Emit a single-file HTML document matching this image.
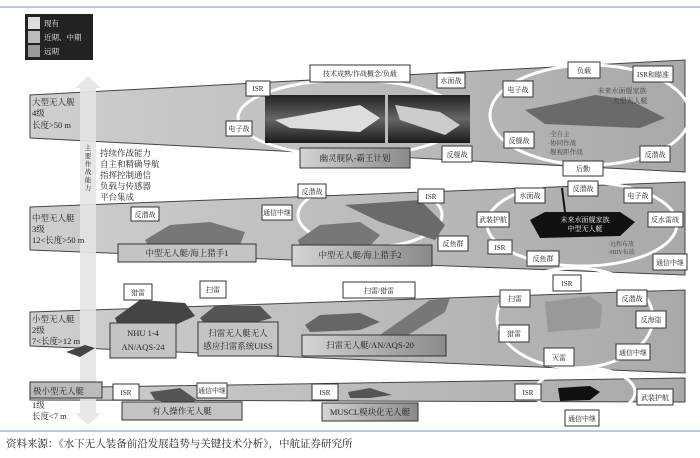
<!DOCTYPE html>
<html><head><meta charset="utf-8"><style>
html,body{margin:0;padding:0;background:#fff;}
svg{display:block;}
text{font-family:"Liberation Serif","Noto Serif CJK SC","Noto Sans CJK SC",serif;fill:#222;}
.b{fill:#fff;stroke:#333;stroke-width:1;}
.g{fill:#c4c4c4;stroke:#333;stroke-width:1;}
.e{fill:none;stroke:#fff;stroke-width:3;}
.s{font-size:7px;text-anchor:middle;}
.m{font-size:8.5px;text-anchor:middle;}
.l{font-size:8.5px;}
</style></head><body>
<svg width="700" height="458" viewBox="0 0 700 458" xmlns="http://www.w3.org/2000/svg">
<defs>
<linearGradient id="band" x1="0" x2="1" y1="0" y2="0"><stop offset="0" stop-color="#cfcfcf"/><stop offset="1" stop-color="#a9a9a9"/></linearGradient>
<linearGradient id="gb" x1="0" x2="1"><stop offset="0" stop-color="#d4d4d4"/><stop offset="1" stop-color="#8a8a8a"/></linearGradient>
<linearGradient id="ph" x1="0" x2="0" y1="0" y2="1"><stop offset="0" stop-color="#222"/><stop offset="0.5" stop-color="#666"/><stop offset="1" stop-color="#1a1a1a"/></linearGradient>
</defs>
<line x1="0" y1="7" x2="700" y2="7" stroke="#9fb3d0" stroke-width="1.5"/>
<line x1="0" y1="431" x2="700" y2="431" stroke="#9fb3d0" stroke-width="1.5"/>
<rect x="25" y="14" width="68" height="46" fill="#222"/>
<rect x="28" y="17" width="12" height="12" fill="#ddd"/><text x="44" y="26" font-size="7.5" style="fill:#eee">现有</text>
<rect x="28" y="31" width="12" height="12" fill="#bbb"/><text x="44" y="40" font-size="7.5" style="fill:#eee">近期、中期</text>
<rect x="28" y="45" width="12" height="12" fill="#999"/><text x="44" y="54" font-size="7.5" style="fill:#eee">远期</text>
<polygon points="30,95 685,60 685,172 30,138" fill="url(#band)" stroke="#444"/>
<polygon points="30,207 685,182 685,275 30,250" fill="url(#band)" stroke="#444"/>
<polygon points="30,312 685,290 685,373 30,346" fill="url(#band)" stroke="#444"/>
<polygon points="30,388 685,378 685,402 30,400" fill="url(#band)" stroke="#444"/>
<polygon points="80,88 75,88 88,76 101,88 96,88 96,413 101,413 88,425 75,413 80,413" fill="#e4e4e4" opacity="0.9"/>
<text x="88" y="150" font-size="6.5" text-anchor="middle"><tspan x="88" dy="0">主</tspan><tspan x="88" dy="8">要</tspan><tspan x="88" dy="8">作</tspan><tspan x="88" dy="8">战</tspan><tspan x="88" dy="8">能</tspan><tspan x="88" dy="8">力</tspan></text>
<text class="l" x="32" y="105">大型无人舰</text><text class="l" x="32" y="116">4级</text><text class="l" x="32" y="128">长度&gt;50 m</text>
<text class="l" x="32" y="221">中型无人艇</text><text class="l" x="32" y="232">3级</text><text class="l" x="32" y="243">12&lt;长度&gt;50 m</text>
<text class="l" x="32" y="322">小型无人艇</text><text class="l" x="32" y="333">2级</text><text class="l" x="32" y="344">7&lt;长度&gt;12 m</text>
<text class="l" x="32" y="408">1级</text><text class="l" x="32" y="419">长度&lt;7 m</text>
<g font-size="8.5"><text x="100" y="156">持续作战能力</text><text x="100" y="167">自主和精确导航</text><text x="100" y="178">指挥控制通信</text><text x="100" y="189">负载与传感器</text><text x="100" y="200">平台集成</text></g>
<ellipse class="e" cx="350" cy="118" rx="112" ry="38"/>
<rect x="265" y="95" width="120" height="48" fill="url(#ph)"/>
<rect x="388" y="95" width="82" height="48" fill="url(#ph)"/>
<polygon points="275,120 330,110 360,105 380,118 360,132 290,128" fill="#ddd"/>
<polygon points="395,105 440,112 460,125 445,135 400,120" fill="#ccc"/>
<rect class="b" x="246" y="81" width="24" height="15"/><text class="s" x="258" y="91">ISR</text>
<rect class="b" x="310" y="65" width="100" height="17"/><text class="s" x="360" y="76">技术成熟/作战概念/负载</text>
<rect class="b" x="437" y="73" width="28" height="15"/><text class="s" x="451" y="83">水面战</text>
<rect class="b" x="226" y="121" width="26" height="15"/><text class="s" x="239" y="131">电子战</text>
<rect x="300" y="148" width="110" height="20" fill="url(#gb)" stroke="#333"/><text class="m" x="355" y="161">幽灵舰队-霸王计划</text>
<rect class="b" x="442" y="146" width="30" height="16"/><text class="s" x="457" y="157">反舰战</text>
<ellipse class="e" cx="590" cy="115" rx="100" ry="50"/>
<polygon points="525,110 560,103 595,95 630,100 665,118 640,128 545,124" fill="#6a6a6a"/>
<rect class="b" x="568" y="62" width="32" height="16"/><text class="s" x="584" y="73">负载</text>
<rect class="b" x="633" y="66" width="40" height="16"/><text class="s" x="653" y="77">ISR和瞄准</text>
<rect class="b" x="503" y="81" width="30" height="16"/><text class="s" x="518" y="92">电子战</text>
<rect class="b" x="504" y="132" width="30" height="16"/><text class="s" x="519" y="143">反舰战</text>
<rect class="b" x="640" y="146" width="30" height="16"/><text class="s" x="655" y="157">反潜战</text>
<rect class="b" x="563" y="161" width="40" height="15"/><text class="s" x="583" y="171">后勤</text>
<text class="s" x="622" y="93" style="fill:#444">未来水面舰家族</text><text class="s" x="630" y="103" style="fill:#444">大型无人艇</text>
<text x="548" y="136" font-size="6.5" style="fill:#444">·全自主</text><text x="548" y="145" font-size="6.5" style="fill:#444">·协同作战</text><text x="548" y="154" font-size="6.5" style="fill:#444">·舰视距作战</text>
<ellipse class="e" cx="370" cy="215" rx="72" ry="32"/>
<polygon points="145,240 170,225 210,222 245,232 240,245 148,246" fill="#777"/>
<polygon points="298,240 320,225 360,222 380,235 370,246 300,246" fill="#777"/>
<polygon points="345,205 420,200 445,225 435,240 380,222" fill="#6a6a6a"/>
<rect class="b" x="131" y="207" width="28" height="14"/><text class="s" x="145" y="217">反潜战</text>
<rect x="118" y="244" width="138" height="18" class="g"/><text class="m" x="187" y="256">中型无人艇/海上猎手1</text>
<rect class="b" x="262" y="205" width="30" height="15"/><text class="s" x="277" y="215">通信中继</text>
<rect class="b" x="298" y="184" width="28" height="14"/><text class="s" x="312" y="194">反潜战</text>
<rect class="b" x="418" y="189" width="26" height="14"/><text class="s" x="431" y="199">ISR</text>
<rect class="b" x="438" y="236" width="30" height="15"/><text class="s" x="453" y="246">反鱼群</text>
<rect x="292" y="245" width="140" height="21" fill="url(#gb)" stroke="#333"/><text class="m" x="360" y="258">中型无人艇/海上猎手2</text>
<ellipse class="e" cx="582" cy="224" rx="95" ry="42"/>
<polygon points="530,220 545,212 620,212 635,222 620,236 540,238" fill="#111"/>
<line x1="565" y1="212" x2="562" y2="188" stroke="#111" stroke-width="2"/>
<text class="s" x="585" y="222" style="fill:#eee">未来水面舰家族</text><text class="s" x="585" y="231" style="fill:#eee">中型无人艇</text>
<text x="608" y="246" font-size="6" style="fill:#444">·远程布放</text><text x="608" y="254" font-size="6" style="fill:#444">·HIIY布放</text>
<rect class="b" x="515" y="188" width="30" height="15"/><text class="s" x="530" y="198">水面战</text>
<rect class="b" x="568" y="181" width="30" height="15"/><text class="s" x="583" y="191">反潜战</text>
<rect class="b" x="624" y="188" width="28" height="15"/><text class="s" x="638" y="198">电子战</text>
<rect class="b" x="648" y="212" width="35" height="15"/><text class="s" x="665" y="222">反水雷战</text>
<rect class="b" x="477" y="212" width="32" height="15"/><text class="s" x="493" y="222">武装护航</text>
<rect class="b" x="488" y="240" width="24" height="14"/><text class="s" x="500" y="250">ISR</text>
<rect class="b" x="527" y="251" width="32" height="15"/><text class="s" x="543" y="261">反鱼群</text>
<rect class="b" x="653" y="254" width="34" height="16"/><text class="s" x="670" y="265">通信中继</text>
<polygon points="115,318 140,300 185,303 195,316 175,325 118,325" fill="#444"/>
<polygon points="200,318 215,306 260,306 272,318 250,324 205,324" fill="#555"/>
<polygon points="305,325 320,315 360,313 380,322 360,330 310,332" fill="#666"/>
<polygon points="380,335 430,300 450,298 445,312 400,340" fill="#777"/>
<polygon points="66,352 85,345 95,348 80,357" fill="#444"/>
<rect class="b" x="124" y="284" width="28" height="16"/><text class="s" x="138" y="295">猎雷</text>
<rect class="g" x="110" y="323" width="66" height="35"/><text class="m" x="143" y="336">NHU 1-4</text><text class="m" x="143" y="350">AN/AQS-24</text>
<rect class="b" x="200" y="281" width="26" height="17"/><text class="s" x="213" y="292">扫雷</text>
<rect class="g" x="198" y="322" width="80" height="34"/><text class="m" x="238" y="336">扫雷无人艇无人</text><text class="m" x="238" y="349">感应扫雷系统UISS</text>
<rect class="b" x="343" y="282" width="72" height="16"/><text class="s" x="379" y="293">扫雷/猎雷</text>
<rect x="302" y="335" width="144" height="21" fill="url(#gb)" stroke="#333"/><text class="m" x="370" y="348">扫雷无人艇/AN/AQS-20</text>
<ellipse class="e" cx="575" cy="318" rx="78" ry="50"/>
<polygon points="545,302 590,296 602,305 600,328 548,332" fill="#999"/>
<rect class="b" x="553" y="275" width="28" height="16"/><text class="s" x="567" y="286">ISR</text>
<rect class="b" x="500" y="290" width="30" height="17"/><text class="s" x="515" y="301">扫雷</text>
<rect class="b" x="617" y="290" width="30" height="16"/><text class="s" x="632" y="301">反潜战</text>
<rect class="b" x="636" y="311" width="30" height="17"/><text class="s" x="651" y="322">反海盗</text>
<rect class="b" x="499" y="325" width="30" height="17"/><text class="s" x="514" y="336">猎雷</text>
<rect class="b" x="616" y="344" width="34" height="16"/><text class="s" x="633" y="355">通信中继</text>
<rect class="b" x="544" y="348" width="30" height="18"/><text class="s" x="559" y="360">灭雷</text>
<rect x="30" y="382" width="72" height="16" fill="#bbb" stroke="#333"/><text class="l" x="33" y="394">极小型无人艇</text>
<polygon points="150,392 180,388 197,400 185,406 155,400" fill="#555"/>
<polygon points="348,392 370,388 392,395 370,398 350,398" fill="#555"/>
<rect class="b" x="113" y="384" width="26" height="16"/><text class="s" x="126" y="395">ISR</text>
<rect class="b" x="197" y="383" width="30" height="15"/><text class="s" x="212" y="393">通信中继</text>
<rect class="g" x="122" y="402" width="120" height="18"/><text class="m" x="182" y="414">有人操作无人艇</text>
<rect class="b" x="312" y="384" width="26" height="16"/><text class="s" x="325" y="395">ISR</text>
<rect x="322" y="403" width="96" height="18" fill="url(#gb)" stroke="#333"/><text class="m" x="370" y="415">MUSCL模块化无人艇</text>
<ellipse class="e" cx="585" cy="392" rx="50" ry="24"/>
<polygon points="558,388 590,386 600,392 590,400 560,401" fill="#111"/>
<rect class="b" x="515" y="384" width="26" height="16"/><text class="s" x="528" y="395">ISR</text>
<rect class="b" x="637" y="389" width="36" height="16"/><text class="s" x="655" y="400">武装护航</text>
<rect class="b" x="565" y="410" width="34" height="16"/><text class="s" x="582" y="421">通信中继</text>
<text x="6" y="447" font-size="10.5">资料来源：《水下无人装备前沿发展趋势与关键技术分析》，中航证券研究所</text>
</svg>
</body></html>
